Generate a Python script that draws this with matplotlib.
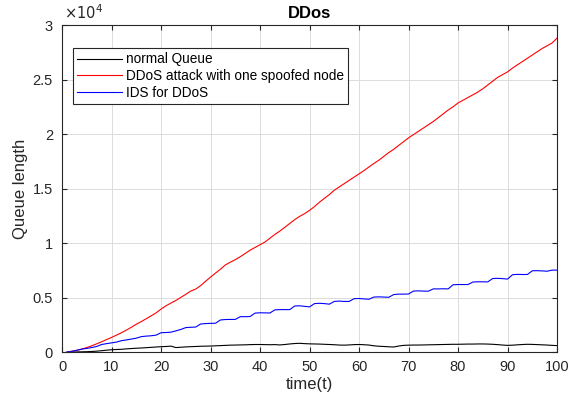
"""
Queue length under a DDoS attack, with and without the IDS.
"""

import numpy as np
import matplotlib.pyplot as plt
from matplotlib.ticker import FuncFormatter

plt.rcParams['font.family'] = ['Liberation Sans', 'DejaVu Sans']

# Simulation time steps
time = np.arange(1, 101)

normal_queue = [
    0, 10, 20, 30, 40, 60, 90, 130, 180, 220,
    240, 260, 300, 330, 360, 380, 410, 440, 470, 500,
    520, 550, 420, 450, 480, 500, 520, 540, 550, 560,
    580, 600, 620, 640, 650, 660, 670, 690, 700, 700,
    690, 680, 690, 660, 700, 750, 790, 810, 780, 760,
    750, 740, 720, 700, 680, 650, 640, 660, 690, 700,
    680, 650, 580, 540, 520, 490, 470, 560, 620, 640,
    650, 650, 660, 670, 680, 690, 700, 710, 720, 720,
    730, 740, 740, 750, 750, 740, 720, 690, 650, 620,
    640, 670, 700, 720, 710, 690, 670, 650, 620, 600,
]

ddos_queue = [
    0, 80, 170, 280, 420, 580, 760, 950, 1150, 1350,
    1560, 1780, 2020, 2280, 2560, 2800, 3060, 3330, 3600, 3950,
    4250, 4500, 4740, 5020, 5300, 5600, 5780, 6100, 6500, 6880,
    7250, 7600, 8000, 8250, 8480, 8750, 9050, 9350, 9600, 9850,
    10100, 10450, 10800, 11100, 11450, 11800, 12150, 12450, 12700, 13000,
    13350, 13750, 14100, 14450, 14850, 15150, 15450, 15750, 16050, 16350,
    16650, 16980, 17300, 17600, 17950, 18300, 18600, 18950, 19300, 19650,
    19950, 20250, 20550, 20850, 21150, 21500, 21850, 22200, 22500, 22850,
    23100, 23350, 23600, 23850, 24150, 24500, 24850, 25200, 25450, 25700,
    26050, 26350, 26650, 26950, 27250, 27550, 27850, 28100, 28350, 28800,
]

ids_queue = [
    0, 80, 170, 280, 340, 420, 520, 700, 780, 850,
    920, 1050, 1120, 1200, 1280, 1420, 1470, 1500, 1560, 1780,
    1800, 1830, 1950, 2080, 2250, 2280, 2300, 2580, 2620, 2640,
    2650, 2950, 2990, 3000, 3000, 3250, 3250, 3270, 3580, 3610,
    3600, 3590, 3880, 3900, 3900, 3900, 4230, 4250, 4200, 4150,
    4450, 4480, 4450, 4400, 4650, 4680, 4650, 4650, 4900, 4920,
    4880, 4850, 5050, 5070, 5050, 5030, 5280, 5320, 5320, 5330,
    5600, 5620, 5600, 5590, 5800, 5800, 5810, 5800, 6180, 6200,
    6200, 6200, 6430, 6450, 6450, 6440, 6750, 6770, 6740, 6700,
    7100, 7130, 7120, 7120, 7460, 7470, 7450, 7420, 7520, 7520,
]

tick_color = '#262626'

fig = plt.figure(figsize=(5.69, 3.97), dpi=100)
ax = fig.add_axes([0.109, 0.113, 0.870, 0.824])

ax.plot(time, normal_queue, color='black', linewidth=0.8, label='normal Queue')
ax.plot(time, ddos_queue, color='red', linewidth=0.8,
        label='DDoS attack with one spoofed node')
ax.plot(time, ids_queue, color='blue', linewidth=0.8, label='IDS for DDoS')

ax.set_xlim(0, 100)
ax.set_ylim(0, 30000)
ax.set_xticks(np.arange(0, 101, 10))
ax.set_yticks(np.arange(0, 30001, 5000))
ax.yaxis.set_major_formatter(FuncFormatter(lambda v, pos: f'{v / 1e4:g}'))
ax.text(0.004, 1.008, r'$\times10^{4}$', transform=ax.transAxes,
        fontsize=10.5, color=tick_color, ha='left', va='bottom')

ax.grid(True, color='#dcdcdc', linewidth=0.7)
ax.set_axisbelow(True)
ax.tick_params(direction='in', top=True, right=True, length=3.5,
               width=0.8, labelsize=10.5, colors=tick_color)
ax.tick_params(axis='x', pad=6)
ax.tick_params(axis='y', pad=6.5)
for spine in ax.spines.values():
    spine.set_color(tick_color)
    spine.set_linewidth(0.8)

ax.set_xlabel('time(t)', fontsize=12, color=tick_color, labelpad=2)
ax.set_ylabel('Queue length', fontsize=12, color=tick_color, labelpad=3)
ax.set_title('DDos', fontsize=12, fontweight='bold', pad=5)

leg = ax.legend(loc='upper left', bbox_to_anchor=(0.022, 0.929), fontsize=9.8,
                frameon=True, fancybox=False, framealpha=1,
                handlelength=3.3, handletextpad=0.3, borderpad=0.3,
                labelspacing=0.2, borderaxespad=0)
leg.get_frame().set_edgecolor(tick_color)
leg.get_frame().set_linewidth(0.8)

plt.savefig('out.png', dpi=100)
